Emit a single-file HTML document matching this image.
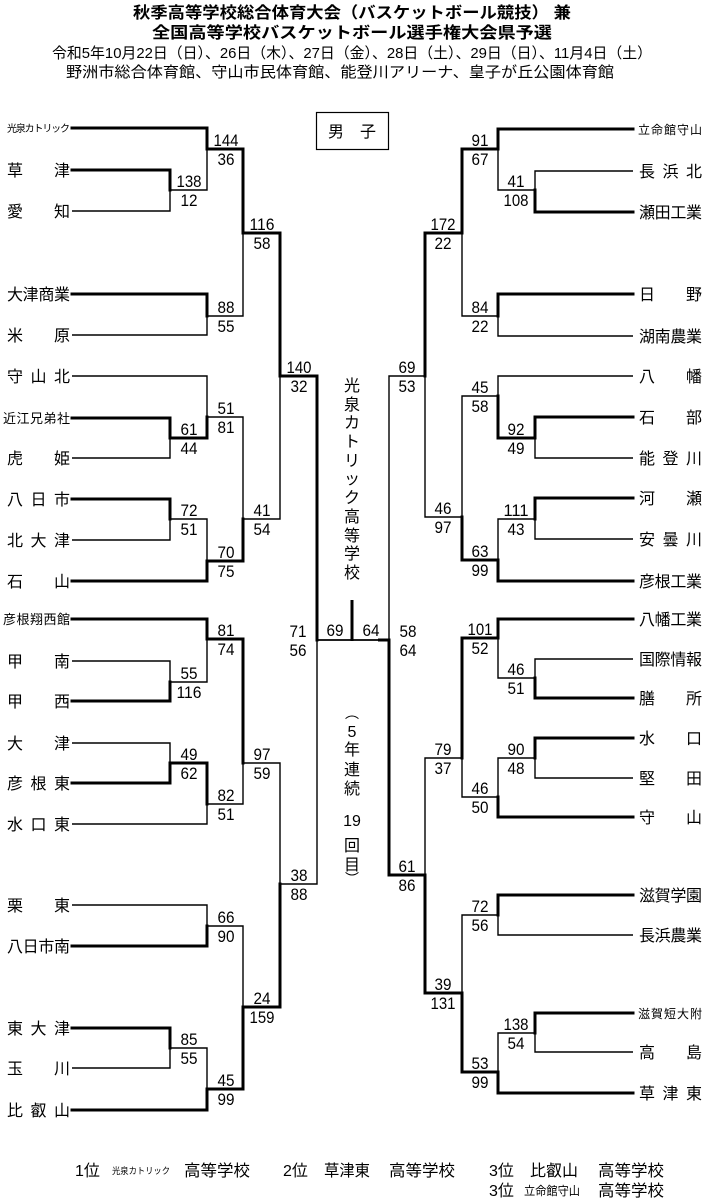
<!DOCTYPE html>
<html><head><meta charset="utf-8">
<style>
html,body{margin:0;padding:0;background:#fff;}
svg{display:block;}
text{font-family:"Liberation Sans","Noto Sans CJK JP",sans-serif;fill:#000;}
.n{font-size:16px;}
.s{font-size:17px;}
.h{font-weight:bold;font-size:16px;}
.k{stroke:#000;stroke-width:3;fill:none;stroke-linejoin:miter;stroke-linecap:square;}
.t{stroke:#000;stroke-width:1.4;fill:none;}
.c{font-size:16px;}
</style></head><body>
<svg width="706" height="1200" viewBox="0 0 706 1200" xmlns="http://www.w3.org/2000/svg">
<text class="h" x="352" y="18" text-anchor="middle" textLength="438" lengthAdjust="spacingAndGlyphs">秋季高等学校総合体育大会（バスケットボール競技） 兼</text>
<text class="h" x="352" y="38" text-anchor="middle" textLength="400" lengthAdjust="spacingAndGlyphs">全国高等学校バスケットボール選手権大会県予選</text>
<text x="352" y="58" font-size="15" text-anchor="middle" textLength="600" lengthAdjust="spacingAndGlyphs">令和5年10月22日（日）、26日（木）、27日（金）、28日（土）、29日（日）、11月4日（土）</text>
<text x="340" y="77" font-size="15" text-anchor="middle" textLength="548" lengthAdjust="spacingAndGlyphs">野洲市総合体育館、守山市民体育館、能登川アリーナ、皇子が丘公園体育館</text>

<rect x="316.5" y="112.5" width="72" height="37" fill="none" stroke="#000" stroke-width="1.2"/>
<text class="n" x="352" y="137" text-anchor="middle">男　子</text>

<path class="k" d="M72,128H207V149 M72,170H170V190 M207,149H243V233 M72,294H207V316 M243,233H280V376 M72,418H170V438 M170,438H207V417 M72,499H170V519 M72,581H207V561 M207,561H243V519 M280,376H317V640 M72,619H207V639 M72,701H170V682 M72,783H170V763 M170,763H207V804 M207,639H243V763 M72,946H207V926 M72,1028H170V1048 M72,1110H207V1089 M207,1089H243V1007 M243,1007H280V884"/>
<path class="t" d="M72,211H170V190 M170,190H207V149 M72,335H207V316 M207,316H243V233 M72,376H207V417 M72,458H170V438 M72,540H170V519 M170,519H207V561 M207,417H243V519 M243,519H280V376 M72,661H170V682 M170,682H207V639 M72,743H170V763 M72,824H207V804 M207,804H243V763 M72,905H207V926 M72,1068H170V1048 M170,1048H207V1089 M207,926H243V1007 M243,763H280V884 M280,884H317V640"/>
<path class="k" d="M633,129H498V149 M633,212H535V190 M498,149H462V233 M633,294H498V316 M462,233H425V376 M633,417H535V438 M535,438H498V396 M633,498H535V519 M633,581H498V560 M498,560H462V517 M633,619H498V638 M633,698H535V678 M633,738H535V758 M633,817H498V797 M498,638H462V758 M633,895H498V915 M633,1013H535V1033 M633,1093H498V1072 M498,1072H462V993 M462,993H425V875 M425,875H389V640"/>
<path class="t" d="M633,171H535V190 M535,190H498V149 M633,336H498V316 M498,316H462V233 M633,376H498V396 M633,458H535V438 M633,539H535V519 M535,519H498V560 M498,396H462V517 M462,517H425V376 M425,376H389V640 M633,659H535V678 M535,678H498V638 M633,778H535V758 M535,758H498V797 M498,797H462V758 M633,935H498V915 M498,915H462V993 M633,1052H535V1033 M535,1033H498V1072 M462,758H425V875"/>
<path d="M317,640H389" stroke="#000" stroke-width="1.8" fill="none"/>
<path d="M378,640H389" stroke="#000" stroke-width="3" fill="none"/>
<path d="M352,600V641" stroke="#000" stroke-width="3" fill="none"/>

<g class="n">
<text x="7" y="132" font-size="10" textLength="63" lengthAdjust="spacing">光泉カトリック</text>
<text x="7" y="176" textLength="63" lengthAdjust="spacing">草津</text>
<text x="7" y="217" textLength="63" lengthAdjust="spacing">愛知</text>
<text x="7" y="300" textLength="63" lengthAdjust="spacing">大津商業</text>
<text x="7" y="341" textLength="63" lengthAdjust="spacing">米原</text>
<text x="7" y="382" textLength="63" lengthAdjust="spacing">守山北</text>
<text x="3" y="423" font-size="13" textLength="67" lengthAdjust="spacing">近江兄弟社</text>
<text x="7" y="464" textLength="63" lengthAdjust="spacing">虎姫</text>
<text x="7" y="505" textLength="63" lengthAdjust="spacing">八日市</text>
<text x="7" y="546" textLength="63" lengthAdjust="spacing">北大津</text>
<text x="7" y="587" textLength="63" lengthAdjust="spacing">石山</text>
<text x="3" y="624" font-size="13" textLength="67" lengthAdjust="spacing">彦根翔西館</text>
<text x="7" y="667" textLength="63" lengthAdjust="spacing">甲南</text>
<text x="7" y="707" textLength="63" lengthAdjust="spacing">甲西</text>
<text x="7" y="749" textLength="63" lengthAdjust="spacing">大津</text>
<text x="7" y="789" textLength="63" lengthAdjust="spacing">彦根東</text>
<text x="7" y="830" textLength="63" lengthAdjust="spacing">水口東</text>
<text x="7" y="911" textLength="63" lengthAdjust="spacing">栗東</text>
<text x="7" y="952" textLength="63" lengthAdjust="spacing">八日市南</text>
<text x="7" y="1034" textLength="63" lengthAdjust="spacing">東大津</text>
<text x="7" y="1074" textLength="63" lengthAdjust="spacing">玉川</text>
<text x="7" y="1116" textLength="63" lengthAdjust="spacing">比叡山</text>
</g>
<g class="n">
<text x="638" y="134" font-size="12" textLength="64" lengthAdjust="spacing">立命館守山</text>
<text x="639" y="177" textLength="63" lengthAdjust="spacing">長浜北</text>
<text x="639" y="218" textLength="63" lengthAdjust="spacing">瀬田工業</text>
<text x="639" y="300" textLength="63" lengthAdjust="spacing">日野</text>
<text x="639" y="342" textLength="63" lengthAdjust="spacing">湖南農業</text>
<text x="639" y="382" textLength="63" lengthAdjust="spacing">八幡</text>
<text x="639" y="423" textLength="63" lengthAdjust="spacing">石部</text>
<text x="639" y="464" textLength="63" lengthAdjust="spacing">能登川</text>
<text x="639" y="504" textLength="63" lengthAdjust="spacing">河瀬</text>
<text x="639" y="545" textLength="63" lengthAdjust="spacing">安曇川</text>
<text x="639" y="587" textLength="63" lengthAdjust="spacing">彦根工業</text>
<text x="639" y="625" textLength="63" lengthAdjust="spacing">八幡工業</text>
<text x="639" y="665" textLength="63" lengthAdjust="spacing">国際情報</text>
<text x="639" y="704" textLength="63" lengthAdjust="spacing">膳所</text>
<text x="639" y="744" textLength="63" lengthAdjust="spacing">水口</text>
<text x="639" y="784" textLength="63" lengthAdjust="spacing">堅田</text>
<text x="639" y="823" textLength="63" lengthAdjust="spacing">守山</text>
<text x="639" y="901" textLength="63" lengthAdjust="spacing">滋賀学園</text>
<text x="639" y="941" textLength="63" lengthAdjust="spacing">長浜農業</text>
<text x="638" y="1018" font-size="12" textLength="64" lengthAdjust="spacing">滋賀短大附</text>
<text x="639" y="1058" textLength="63" lengthAdjust="spacing">高島</text>
<text x="639" y="1099" textLength="63" lengthAdjust="spacing">草津東</text>
</g>

<g class="s" text-anchor="middle">
<text x="189" y="187" textLength="25" lengthAdjust="spacingAndGlyphs">138</text><text x="189" y="206" textLength="17" lengthAdjust="spacingAndGlyphs">12</text>
<text x="226" y="146" textLength="25" lengthAdjust="spacingAndGlyphs">144</text><text x="226" y="165" textLength="17" lengthAdjust="spacingAndGlyphs">36</text>
<text x="226" y="313" textLength="17" lengthAdjust="spacingAndGlyphs">88</text><text x="226" y="332" textLength="17" lengthAdjust="spacingAndGlyphs">55</text>
<text x="262" y="230" textLength="25" lengthAdjust="spacingAndGlyphs">116</text><text x="262" y="249" textLength="17" lengthAdjust="spacingAndGlyphs">58</text>
<text x="299" y="373" textLength="25" lengthAdjust="spacingAndGlyphs">140</text><text x="299" y="392" textLength="17" lengthAdjust="spacingAndGlyphs">32</text>
<text x="189" y="435" textLength="17" lengthAdjust="spacingAndGlyphs">61</text><text x="189" y="454" textLength="17" lengthAdjust="spacingAndGlyphs">44</text>
<text x="226" y="414" textLength="17" lengthAdjust="spacingAndGlyphs">51</text><text x="226" y="433" textLength="17" lengthAdjust="spacingAndGlyphs">81</text>
<text x="189" y="516" textLength="17" lengthAdjust="spacingAndGlyphs">72</text><text x="189" y="535" textLength="17" lengthAdjust="spacingAndGlyphs">51</text>
<text x="226" y="558" textLength="17" lengthAdjust="spacingAndGlyphs">70</text><text x="226" y="577" textLength="17" lengthAdjust="spacingAndGlyphs">75</text>
<text x="262" y="516" textLength="17" lengthAdjust="spacingAndGlyphs">41</text><text x="262" y="535" textLength="17" lengthAdjust="spacingAndGlyphs">54</text>
<text x="189" y="679" textLength="17" lengthAdjust="spacingAndGlyphs">55</text><text x="189" y="698" textLength="25" lengthAdjust="spacingAndGlyphs">116</text>
<text x="226" y="636" textLength="17" lengthAdjust="spacingAndGlyphs">81</text><text x="226" y="655" textLength="17" lengthAdjust="spacingAndGlyphs">74</text>
<text x="189" y="760" textLength="17" lengthAdjust="spacingAndGlyphs">49</text><text x="189" y="779" textLength="17" lengthAdjust="spacingAndGlyphs">62</text>
<text x="226" y="801" textLength="17" lengthAdjust="spacingAndGlyphs">82</text><text x="226" y="820" textLength="17" lengthAdjust="spacingAndGlyphs">51</text>
<text x="262" y="760" textLength="17" lengthAdjust="spacingAndGlyphs">97</text><text x="262" y="779" textLength="17" lengthAdjust="spacingAndGlyphs">59</text>
<text x="299" y="881" textLength="17" lengthAdjust="spacingAndGlyphs">38</text><text x="299" y="900" textLength="17" lengthAdjust="spacingAndGlyphs">88</text>
<text x="226" y="923" textLength="17" lengthAdjust="spacingAndGlyphs">66</text><text x="226" y="942" textLength="17" lengthAdjust="spacingAndGlyphs">90</text>
<text x="189" y="1045" textLength="17" lengthAdjust="spacingAndGlyphs">85</text><text x="189" y="1064" textLength="17" lengthAdjust="spacingAndGlyphs">55</text>
<text x="226" y="1086" textLength="17" lengthAdjust="spacingAndGlyphs">45</text><text x="226" y="1105" textLength="17" lengthAdjust="spacingAndGlyphs">99</text>
<text x="262" y="1004" textLength="17" lengthAdjust="spacingAndGlyphs">24</text><text x="262" y="1023" textLength="25" lengthAdjust="spacingAndGlyphs">159</text>
<text x="298" y="637" textLength="17" lengthAdjust="spacingAndGlyphs">71</text><text x="298" y="656" textLength="17" lengthAdjust="spacingAndGlyphs">56</text>
<text x="335" y="636" textLength="17" lengthAdjust="spacingAndGlyphs">69</text><text x="371" y="636" textLength="17" lengthAdjust="spacingAndGlyphs">64</text>
<text x="408" y="637" textLength="17" lengthAdjust="spacingAndGlyphs">58</text><text x="408" y="656" textLength="17" lengthAdjust="spacingAndGlyphs">64</text>
<text x="516" y="187" textLength="17" lengthAdjust="spacingAndGlyphs">41</text><text x="516" y="206" textLength="25" lengthAdjust="spacingAndGlyphs">108</text>
<text x="480" y="146" textLength="17" lengthAdjust="spacingAndGlyphs">91</text><text x="480" y="165" textLength="17" lengthAdjust="spacingAndGlyphs">67</text>
<text x="480" y="313" textLength="17" lengthAdjust="spacingAndGlyphs">84</text><text x="480" y="332" textLength="17" lengthAdjust="spacingAndGlyphs">22</text>
<text x="443" y="230" textLength="25" lengthAdjust="spacingAndGlyphs">172</text><text x="443" y="249" textLength="17" lengthAdjust="spacingAndGlyphs">22</text>
<text x="407" y="373" textLength="17" lengthAdjust="spacingAndGlyphs">69</text><text x="407" y="392" textLength="17" lengthAdjust="spacingAndGlyphs">53</text>
<text x="516" y="435" textLength="17" lengthAdjust="spacingAndGlyphs">92</text><text x="516" y="454" textLength="17" lengthAdjust="spacingAndGlyphs">49</text>
<text x="480" y="393" textLength="17" lengthAdjust="spacingAndGlyphs">45</text><text x="480" y="412" textLength="17" lengthAdjust="spacingAndGlyphs">58</text>
<text x="516" y="516" textLength="25" lengthAdjust="spacingAndGlyphs">111</text><text x="516" y="535" textLength="17" lengthAdjust="spacingAndGlyphs">43</text>
<text x="480" y="557" textLength="17" lengthAdjust="spacingAndGlyphs">63</text><text x="480" y="576" textLength="17" lengthAdjust="spacingAndGlyphs">99</text>
<text x="443" y="514" textLength="17" lengthAdjust="spacingAndGlyphs">46</text><text x="443" y="533" textLength="17" lengthAdjust="spacingAndGlyphs">97</text>
<text x="516" y="675" textLength="17" lengthAdjust="spacingAndGlyphs">46</text><text x="516" y="694" textLength="17" lengthAdjust="spacingAndGlyphs">51</text>
<text x="480" y="635" textLength="25" lengthAdjust="spacingAndGlyphs">101</text><text x="480" y="654" textLength="17" lengthAdjust="spacingAndGlyphs">52</text>
<text x="516" y="755" textLength="17" lengthAdjust="spacingAndGlyphs">90</text><text x="516" y="774" textLength="17" lengthAdjust="spacingAndGlyphs">48</text>
<text x="480" y="794" textLength="17" lengthAdjust="spacingAndGlyphs">46</text><text x="480" y="813" textLength="17" lengthAdjust="spacingAndGlyphs">50</text>
<text x="443" y="755" textLength="17" lengthAdjust="spacingAndGlyphs">79</text><text x="443" y="774" textLength="17" lengthAdjust="spacingAndGlyphs">37</text>
<text x="407" y="872" textLength="17" lengthAdjust="spacingAndGlyphs">61</text><text x="407" y="891" textLength="17" lengthAdjust="spacingAndGlyphs">86</text>
<text x="480" y="912" textLength="17" lengthAdjust="spacingAndGlyphs">72</text><text x="480" y="931" textLength="17" lengthAdjust="spacingAndGlyphs">56</text>
<text x="516" y="1030" textLength="25" lengthAdjust="spacingAndGlyphs">138</text><text x="516" y="1049" textLength="17" lengthAdjust="spacingAndGlyphs">54</text>
<text x="480" y="1069" textLength="17" lengthAdjust="spacingAndGlyphs">53</text><text x="480" y="1088" textLength="17" lengthAdjust="spacingAndGlyphs">99</text>
<text x="443" y="990" textLength="17" lengthAdjust="spacingAndGlyphs">39</text><text x="443" y="1009" textLength="25" lengthAdjust="spacingAndGlyphs">131</text>
</g>

<g class="c" text-anchor="middle">
<text x="352" y="391">光</text>
<text x="352" y="410">泉</text>
<text x="352" y="428">カ</text>
<text x="352" y="447">ト</text>
<text x="352" y="466">リ</text>
<text x="352" y="484">ッ</text>
<text x="352" y="503">ク</text>
<text x="352" y="522">高</text>
<text x="352" y="541">等</text>
<text x="352" y="559">学</text>
<text x="352" y="578">校</text>
</g>
<g class="c" text-anchor="middle">
<text x="352" y="718" font-size="14">︵</text>
<text x="352" y="737">5</text>
<text x="352" y="755">年</text>
<text x="352" y="775">連</text>
<text x="352" y="794">続</text>
<text x="352" y="826">19</text>
<text x="352" y="851">回</text>
<text x="352" y="870">目</text>
<text x="352" y="884" font-size="14">︶</text>
</g>

<g font-size="16">
<text x="75" y="1176">1位</text>
<text x="112" y="1174" font-size="9" textLength="58" lengthAdjust="spacingAndGlyphs">光泉カトリック</text>
<text x="184" y="1176" textLength="66" lengthAdjust="spacingAndGlyphs">高等学校</text>
<text x="283" y="1176">2位</text>
<text x="324" y="1176" textLength="46" lengthAdjust="spacingAndGlyphs">草津東</text>
<text x="389" y="1176" textLength="66" lengthAdjust="spacingAndGlyphs">高等学校</text>
<text x="489" y="1176">3位</text>
<text x="530" y="1176" textLength="48" lengthAdjust="spacingAndGlyphs">比叡山</text>
<text x="598" y="1176" textLength="66" lengthAdjust="spacingAndGlyphs">高等学校</text>
<text x="489" y="1196">3位</text>
<text x="524" y="1195" font-size="12" textLength="56" lengthAdjust="spacingAndGlyphs">立命館守山</text>
<text x="598" y="1196" textLength="66" lengthAdjust="spacingAndGlyphs">高等学校</text>
</g>
</svg>
</body></html>
